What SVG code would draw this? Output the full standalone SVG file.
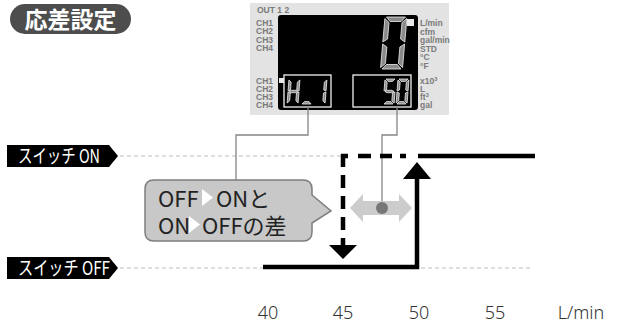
<svg xmlns="http://www.w3.org/2000/svg" xmlns:xlink="http://www.w3.org/1999/xlink" width="623" height="329" viewBox="0 0 623 329">
<style>
.pl{font-family:"Liberation Sans",Arial,sans-serif;font-weight:bold;font-size:8.5px;fill:#7a7a7a}
.seg{fill:#8a8a8a;stroke:#ededed;stroke-width:0.8}
.grid{stroke:#bdbdbd;stroke-width:1.2;stroke-dasharray:4 3;fill:none}
.conn{stroke:#858585;stroke-width:1.3;fill:none}
.tag{font-family:"Noto Sans CJK JP","Noto Sans",sans-serif;font-weight:400;font-size:19px;fill:#fff}
.ax{font-family:"Noto Sans","Noto Sans CJK JP",sans-serif;font-weight:300;font-size:18px;fill:#333}
.call{font-family:"Noto Sans CJK JP","Noto Sans",sans-serif;font-weight:400;font-size:22px;fill:#222}
</style>
<defs>
<polygon id="Ba" points="1.5,0 20.5,0 16.5,4.5 5.5,4.5"/>
<polygon id="Bb" points="22,1.5 22,25 17.5,22 17.5,5.5"/>
<polygon id="Bc" points="22,27 22,50.5 17.5,46.5 17.5,30"/>
<polygon id="Bd" points="1.5,52 20.5,52 16.5,47.5 5.5,47.5"/>
<polygon id="Be" points="0,27 0,50.5 4.5,46.5 4.5,30"/>
<polygon id="Bf" points="0,1.5 0,25 4.5,22 4.5,5.5"/>
<polygon id="sa" points="1,0 10,0 7.8,2.4 3.2,2.4"/>
<polygon id="sb" points="11,1 11,12 8.6,11 8.6,3.2"/>
<polygon id="sc" points="11,13 11,24 8.6,21.8 8.6,14"/>
<polygon id="sd" points="1,25 10,25 7.8,22.6 3.2,22.6"/>
<polygon id="se" points="0,13 0,24 2.4,21.8 2.4,14"/>
<polygon id="sf" points="0,1 0,12 2.4,11 2.4,3.2"/>
<polygon id="sg" points="1,12.5 3.2,11.3 7.8,11.3 10,12.5 7.8,13.7 3.2,13.7"/>
</defs>

<g id="title">
<rect x="10" y="4" width="121" height="30" rx="15" fill="#4d4d4d"/>
<text x="70.5" y="28" text-anchor="middle" style="font-family:'Noto Sans CJK JP','Noto Sans',sans-serif;font-weight:bold;font-size:23px;fill:#fff">応差設定</text>
</g>

<g id="display">
<rect x="250" y="3" width="199" height="112" fill="#e3e3e3"/>
<rect x="278" y="15" width="140" height="95" rx="3" fill="#000"/>
<text class="pl" x="257" y="13">OUT 1 2</text>
<text class="pl" x="256" y="26">CH1</text>
<text class="pl" x="256" y="34.3">CH2</text>
<text class="pl" x="256" y="42.6">CH3</text>
<text class="pl" x="256" y="51">CH4</text>
<text class="pl" x="256" y="83.5">CH1</text>
<text class="pl" x="256" y="91.8">CH2</text>
<text class="pl" x="256" y="100.1">CH3</text>
<text class="pl" x="256" y="108.4">CH4</text>
<text class="pl" x="420" y="26">L/min</text>
<text class="pl" x="420" y="34.5">cfm</text>
<text class="pl" x="420" y="43">gal/min</text>
<text class="pl" x="420" y="51.5">STD</text>
<text class="pl" x="420" y="60">°C</text>
<text class="pl" x="420" y="68.5">°F</text>
<text class="pl" x="420" y="83.5">x10<tspan font-size="5.5" dy="-3">3</tspan></text>
<text class="pl" x="420" y="91.8">L</text>
<text class="pl" x="420" y="100.1">ft<tspan font-size="5.5" dy="-3">3</tspan></text>
<text class="pl" x="420" y="108.4">gal</text>
<rect x="407" y="19" width="7" height="7" fill="#e8e8e8"/>
<rect x="279" y="78" width="5" height="5" fill="#e8e8e8"/>
<g class="seg" transform="translate(385,17) skewX(-5)">
<use href="#Ba"/><use href="#Bb"/><use href="#Bc"/><use href="#Bd"/><use href="#Be"/><use href="#Bf"/>
</g>
<rect x="284" y="75" width="47" height="32" fill="none" stroke="#f2f2f2" stroke-width="1.3"/>
<rect x="353" y="75" width="58" height="32" fill="none" stroke="#f2f2f2" stroke-width="1.3"/>
<g class="seg" transform="translate(289,79) skewX(-4.5)"><use href="#sb"/><use href="#sc"/><use href="#se"/><use href="#sf"/><use href="#sg"/></g>
<g class="seg" transform="translate(303,79) skewX(-4.5)"><use href="#sd"/></g>
<g class="seg" transform="translate(316,79) skewX(-4.5)"><use href="#sb"/><use href="#sc"/></g>
<g class="seg" transform="translate(385,79) skewX(-4.5)"><use href="#sa"/><use href="#sf"/><use href="#sg"/><use href="#sc"/><use href="#sd"/></g>
<g class="seg" transform="translate(398,79) skewX(-4.5)"><use href="#sa"/><use href="#sb"/><use href="#sc"/><use href="#sd"/><use href="#se"/><use href="#sf"/></g>
</g>

<g id="connectors">
<path class="grid" d="M120,156 H342"/>
<path class="grid" d="M120,268 H530"/>
<path class="conn" d="M308,107 V135 H236 V180"/>
<path class="conn" d="M397,107 V135 H382 V208"/>
<path d="M263,267 H417 V177" fill="none" stroke="#000" stroke-width="4.5"/>
<polygon points="417,162 403,179 431,179" fill="#000"/>
<path d="M418,156 H535" fill="none" stroke="#000" stroke-width="4.5"/>
<path d="M343,154 V246" fill="none" stroke="#000" stroke-width="4.5" stroke-dasharray="13 8"/>
<path d="M341,156 H407" fill="none" stroke="#000" stroke-width="4.5" stroke-dasharray="7 10 13 9 12 8 6 20"/>
<polygon points="343,259 329,245 357,245" fill="#000"/>
<polygon points="350,208 363,194 363,201 399,201 399,194 412,208 399,222 399,215 363,215 363,222" fill="#cccccc"/>
<circle cx="382" cy="208" r="6" fill="#777"/>
</g>

<g id="label-on">
<path d="M7,145 H109 L118,156 L109,167 H7 Z" fill="#000"/>
<text class="tag" x="18" y="163" textLength="82" lengthAdjust="spacingAndGlyphs">スイッチ ON</text>
</g>
<g id="label-off">
<path d="M7,257 H109 L118,268 L109,279 H7 Z" fill="#000"/>
<text class="tag" x="18" y="275" textLength="92" lengthAdjust="spacingAndGlyphs">スイッチ OFF</text>
</g>

<g id="callout">
<path d="M154,180 H303 Q312,180 312,189 V195 L331,211 L312,223 V232 Q312,241 303,241 H154 Q145,241 145,232 V189 Q145,180 154,180 Z" fill="#c8c8c8" stroke="#7d7d7d" stroke-width="1.5"/>
<text class="call" x="158" y="207">OFF</text>
<polygon points="202,189 202,206 213,197.5" fill="#fff"/>
<text class="call" x="216" y="207">ONと</text>
<text class="call" x="158" y="234">ON</text>
<polygon points="189,216 189,233 200,224.5" fill="#fff"/>
<text class="call" x="202" y="234">OFFの差</text>
</g>

<g id="axis">
<text class="ax" x="268" y="319" text-anchor="middle">40</text>
<text class="ax" x="343" y="319" text-anchor="middle">45</text>
<text class="ax" x="419" y="319" text-anchor="middle">50</text>
<text class="ax" x="495" y="319" text-anchor="middle">55</text>
<text class="ax" x="581" y="319" text-anchor="middle">L/min</text>
</g>
</svg>
